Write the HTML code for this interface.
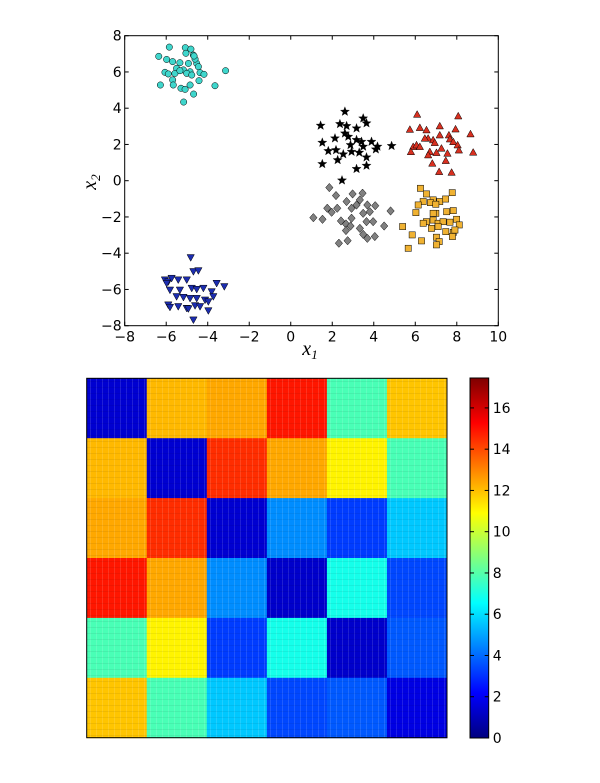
<!DOCTYPE html>
<html><head><meta charset="utf-8">
<style>
body{margin:0;background:#fff;}
svg{display:block;font-family:"DejaVu Sans","Liberation Sans",sans-serif;}
</style></head>
<body>
<svg id="fig" width="600" height="783" viewBox="0 0 600 783" xmlns="http://www.w3.org/2000/svg">
<defs>
<linearGradient id="jet" x1="0" y1="1" x2="0" y2="0">
<stop offset="0" stop-color="#00007f"/><stop offset="0.125" stop-color="#0000ff"/>
<stop offset="0.375" stop-color="#00ffff"/><stop offset="0.625" stop-color="#ffff00"/>
<stop offset="0.875" stop-color="#ff0000"/><stop offset="1" stop-color="#7f0000"/>
</linearGradient>
<pattern id="stripes" width="6" height="6" patternUnits="userSpaceOnUse">
<rect x="0" y="0" width="1" height="6" fill="#fff" opacity="0.12"/>
<rect x="0" y="3" width="6" height="1" fill="#000" opacity="0.06"/>
</pattern>
</defs>
<g id="scatter"></g>
<g id="heat"></g>
<g id="cbar"></g>
</svg>
<script>
// ---- scatter data ----
const cyanX=[-6.36,-5.85,-5.08,-4.81,-5.98,-5.69,-5.34,-5.05,-4.69,-4.53,-4.45,-5.50,-5.17,-4.85,-6.06,-5.90,-5.58,-5.34,-5.01,-4.77,-4.37,-4.18,-3.14,-6.28,-5.69,-5.66,-5.29,-5.09,-4.85,-4.42,-4.68,-3.65,-5.16,-4.61,-4.93,-4.66];
const cyanY=[6.86,7.37,7.34,7.26,6.69,6.57,6.51,7.03,6.93,6.47,6.29,6.20,6.11,6.01,5.98,5.89,5.92,6.07,5.92,5.83,5.96,5.87,6.07,5.28,5.56,5.28,5.10,5.04,5.28,5.52,4.78,5.24,4.34,6.71,6.47,6.88];
const blueX=[-4.82,-6.06,-5.90,-5.74,-5.42,-5.01,-4.69,-4.45,-3.57,-3.20,-5.82,-5.34,-4.77,-4.53,-4.21,-3.81,-5.17,-4.85,-4.53,-4.13,-5.90,-5.42,-5.01,-4.61,-4.37,-3.97,-5.82,-4.93,-3.97,-4.69,-3.73,-5.50,-5.98];
const blueY=[-4.24,-5.47,-5.57,-5.38,-5.47,-5.47,-5.01,-4.96,-5.66,-5.84,-6.03,-6.03,-5.93,-5.99,-5.93,-6.12,-6.43,-6.49,-6.49,-6.58,-6.85,-6.94,-7.04,-6.89,-6.94,-6.67,-6.98,-7.06,-7.17,-7.68,-6.39,-6.39,-5.66];
const blackX=[2.61,1.44,2.37,2.69,3.49,3.17,3.65,1.52,2.13,2.77,3.17,3.41,3.89,4.18,4.86,1.81,2.18,2.53,2.93,3.30,3.65,4.10,1.52,2.26,3.65,3.17,2.47,2.88,3.49,2.61];
const blackY=[3.81,3.04,3.13,3.02,3.44,2.89,3.17,2.10,2.34,2.43,2.25,2.15,2.15,1.88,1.92,1.64,1.69,1.46,1.60,1.55,1.29,1.73,0.92,1.14,0.83,0.65,0.02,1.97,1.88,2.61];
const grayX=[1.86,2.18,1.09,1.53,1.76,1.97,2.24,2.42,2.66,2.93,2.66,2.88,2.32,2.74,2.98,3.33,3.46,3.69,3.81,4.07,3.49,3.65,3.97,4.05,3.69,4.50,4.81,3.33,3.17,3.49,2.93,2.69];
const grayY=[-0.38,-0.82,-2.04,-2.13,-1.52,-1.74,-1.52,-2.22,-2.39,-2.07,-2.75,-2.50,-3.45,-3.31,-0.73,-1.06,-0.69,-1.34,-1.71,-1.38,-1.80,-2.26,-2.26,-3.08,-3.18,-2.50,-1.67,-2.63,-1.34,-2.96,-1.52,-1.15];
const redX=[6.09,8.07,5.74,6.22,7.18,7.94,6.54,5.90,6.06,6.22,6.62,6.86,7.18,7.62,7.67,7.83,8.04,8.66,8.79,5.79,6.70,7.02,7.26,7.55,8.10,6.82,7.47,7.15,7.75,6.62,6.94,6.46];
const redY=[3.66,3.57,2.83,2.93,3.02,2.85,2.80,1.88,1.97,1.88,2.34,2.25,2.52,2.52,2.30,2.15,1.97,2.58,1.57,1.60,1.60,1.55,1.79,1.51,1.69,0.96,1.11,0.50,0.46,1.42,2.10,2.34];
const orangeX=[6.25,6.54,6.86,7.18,7.46,7.78,6.38,6.14,6.03,6.73,6.99,7.83,7.51,6.99,6.54,6.86,7.10,7.34,7.67,7.99,8.12,6.38,6.78,7.10,7.47,7.83,7.79,5.39,5.85,6.30,7.02,7.15,7.02,5.66,7.91,6.86];
const orangeY=[-0.42,-0.73,-1.06,-1.15,-1.01,-0.66,-1.15,-1.34,-1.76,-1.21,-1.30,-1.65,-1.71,-1.80,-2.26,-2.17,-2.35,-2.26,-2.29,-2.13,-2.44,-2.35,-2.63,-2.53,-2.81,-2.85,-3.08,-2.53,-2.99,-3.32,-3.12,-3.36,-3.54,-3.73,-2.72,-1.80];
const xTicks=[-8,-6,-4,-2,0,2,4,6,8,10];
const yTicks=[-8,-6,-4,-2,0,2,4,6,8];
// ---- heatmap data (block mean distances) ----
const blockRow0=[1.4,12.1,12.4,14.9,7.8,11.9];
const blockRow1=[12.1,1.4,14.5,12.4,11.1,7.8];
const blockRow2=[12.4,14.5,1.4,4.6,3.2,5.6];
const blockRow3=[14.9,12.4,4.6,1.3,6.9,3.4];
const blockRow4=[7.8,11.1,3.2,6.9,1.3,3.7];
const blockRow5=[11.9,7.8,5.6,3.4,3.7,1.7];
const cbTicks=[0,2,4,6,8,10,12,14,16];
const cbMax=17.45;

const NS="http://www.w3.org/2000/svg";
function mk(tag,attrs,parent){const e=document.createElementNS(NS,tag);for(const k in attrs)e.setAttribute(k,attrs[k]);parent.appendChild(e);return e;}
const L=124.7,R=498.3,T=35.7,B=325.7;
const sx=v=>L+(v+8)/18*(R-L);
const sy=v=>B-(v+8)/16*(B-T);
const sc=document.getElementById('scatter');
const frame=mk('rect',{x:L,y:T,width:R-L,height:B-T,fill:'#fff',stroke:'#000','stroke-width':1},sc);


xTicks.forEach(t=>{
  const x=sx(t);
  const l1=mk('line',{x1:x,x2:x,y1:B,y2:B-4,stroke:'#000'},sc);
  
  
  mk('line',{x1:x,x2:x,y1:T,y2:T+4,stroke:'#000'},sc);
  const tx=mk('text',{x:x,y:B+16,'font-size':14,'text-anchor':'middle'},sc);
  tx.textContent=(t<0?'\u2212'+(-t):t);
  
  
});
yTicks.forEach(t=>{
  const y=sy(t);
  const l1=mk('line',{x1:L,x2:L+4,y1:y,y2:y,stroke:'#000'},sc);
  
  
  mk('line',{x1:R,x2:R-4,y1:y,y2:y,stroke:'#000'},sc);
  const tx=mk('text',{x:L-3,y:y+5,'font-size':14,'text-anchor':'end'},sc);
  tx.textContent=(t<0?'\u2212'+(-t):t);
  
  
});
const xl=mk('text',{x:310,y:355,'font-size':20,'font-style':'italic','font-family':'Liberation Serif, serif','text-anchor':'middle'},sc);
xl.innerHTML='x<tspan font-size="13" dy="4">1</tspan>';


const yl=mk('text',{x:0,y:0,'font-size':20,'font-style':'italic','font-family':'Liberation Serif, serif','text-anchor':'middle',transform:'translate(96,182) rotate(-90)'},sc);
yl.innerHTML='x<tspan font-size="13" dy="4">2</tspan>';



function star(cx,cy,r){let p=[];for(let i=0;i<10;i++){const a=-Math.PI/2+i*Math.PI/5;const rr=i%2?r*0.42:r;p.push((cx+rr*Math.cos(a)).toFixed(1)+','+(cy+rr*Math.sin(a)).toFixed(1));}return p.join(' ');}
function drawSeries(xs,ys,kind,fill,name){
  const g=mk('g',{},sc);
  
  
  xs.forEach((xv,i)=>{
    const x=sx(xv),y=sy(ys[i]);let e;
    if(kind==='o')e=mk('circle',{cx:x,cy:y,r:3.2,fill:fill,stroke:'#000','stroke-width':0.5},g);
    else if(kind==='v')e=mk('polygon',{points:`${x-3.7},${y-3} ${x+3.7},${y-3} ${x},${y+3.7}`,fill:fill,stroke:'#000','stroke-width':0.5},g);
    else if(kind==='^')e=mk('polygon',{points:`${x-3.7},${y+3} ${x+3.7},${y+3} ${x},${y-3.7}`,fill:fill,stroke:'#000','stroke-width':0.5},g);
    else if(kind==='s')e=mk('rect',{x:x-3.1,y:y-3.1,width:6.2,height:6.2,fill:fill,stroke:'#000','stroke-width':0.5},g);
    else if(kind==='d')e=mk('polygon',{points:`${x},${y-4.2} ${x+3.7},${y} ${x},${y+4.2} ${x-3.7},${y}`,fill:fill,stroke:'#000','stroke-width':0.5},g);
    else e=mk('polygon',{points:star(x,y,4.8),fill:fill,stroke:'#000','stroke-width':0.3},g);
    
    
  });
}
drawSeries(cyanX,cyanY,'o','#3fd6cc','cyan-cluster');
drawSeries(blueX,blueY,'v','#1c2db0','blue-cluster');
drawSeries(blackX,blackY,'*','#000','black-cluster');
drawSeries(grayX,grayY,'d','#808080','gray-cluster');
drawSeries(redX,redY,'^','#d83020','red-cluster');
drawSeries(orangeX,orangeY,'s','#f0b232','orange-cluster');

function jet(v){const t=Math.max(0,Math.min(1,v/cbMax));
  const f=x=>Math.max(0,Math.min(1,x));
  const r=f(1.5-Math.abs(4*t-3)),g=f(1.5-Math.abs(4*t-2)),b=f(1.5-Math.abs(4*t-1));
  return `rgb(${Math.round(r*255)},${Math.round(g*255)},${Math.round(b*255)})`;}
const hg=document.getElementById('heat');
const HL=86.7,HR=447,HT=378.3,HB=737.7;
const blocks=[blockRow0,blockRow1,blockRow2,blockRow3,blockRow4,blockRow5];
const n=blocks.length,cw=(HR-HL)/n,ch=(HB-HT)/n;
blocks.forEach((row,i)=>row.forEach((v,j)=>{
  const r=mk('rect',{x:HL+j*cw,y:HT+i*ch,width:cw+0.5,height:ch+0.5,fill:jet(v)},hg);
  
  
}));
const tex=mk('rect',{x:HL,y:HT,width:HR-HL,height:HB-HT,fill:'url(#stripes)'},hg);


const hf=mk('rect',{x:HL,y:HT,width:HR-HL,height:HB-HT,fill:'none',stroke:'#000'},hg);



const cb=document.getElementById('cbar');
const CL=470,CR=488.7,CT=378,CB=738;
const cbr=mk('rect',{x:CL,y:CT,width:CR-CL,height:CB-CT,fill:'url(#jet)',stroke:'#000'},cb);


cbTicks.forEach(t=>{
  const y=CB-t/cbMax*(CB-CT);
  mk('line',{x1:CR,x2:CR-4,y1:y,y2:y,stroke:'#000'},cb);
  mk('line',{x1:CL,x2:CL+4,y1:y,y2:y,stroke:'#000'},cb);
  const tx=mk('text',{x:CR+4,y:y+5,'font-size':14},cb);
  tx.textContent=t;
  
  
});
</script>
</body></html>
